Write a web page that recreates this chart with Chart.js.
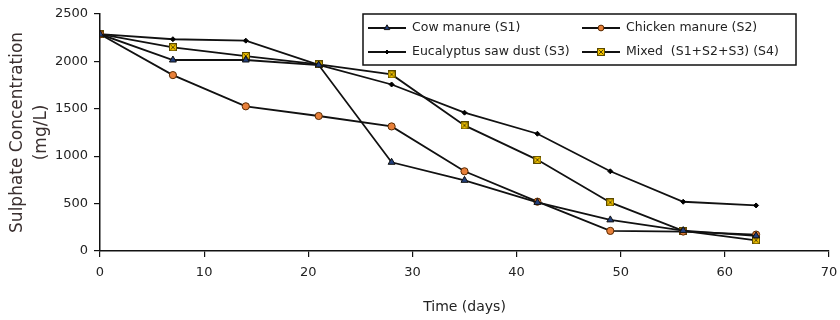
<!DOCTYPE html>
<html>
<head>
<meta charset="utf-8">
<script src="https://cdn.jsdelivr.net/npm/chart.js@4"></script>
<style>
  html, body { margin: 0; padding: 0; background: #fff; }
  #wrap { width: 840px; height: 320px; }
</style>
</head>
<body>
<div id="wrap"><canvas id="c" width="840" height="320"></canvas></div>
<script>
// ---- data ----
const days = [0, 7, 14, 21, 28, 35, 42, 49, 56, 63];
const cowManure = [2285, 2013, 2013, 1960, 935, 745, 512, 328, 215, 160];
const chickenManure = [2285, 1854, 1525, 1423, 1313, 840, 520, 212, 205, 173];
const eucalyptus = [2285, 2232, 2217, 1962, 1755, 1458, 1236, 840, 519, 480];
const mixed = [2285, 2147, 2055, 1967, 1861, 1324, 961, 512, 212, 113];
const seriesNames = ['Cow manure (S1)', 'Chicken manure (S2)', 'Eucalyptus saw dust (S3)', 'Mixed  (S1+S2+S3) (S4)'];
const xTicks = [0, 10, 20, 30, 40, 50, 60, 70];
const yTicks = [0, 500, 1000, 1500, 2000, 2500];

// ---- custom marker for Mixed: yellow square with an X ----
function makeMixedMarker() {
  const c = document.createElement('canvas');
  c.width = 8; c.height = 8;
  const g = c.getContext('2d');
  g.fillStyle = '#f2c200';
  g.fillRect(0.5, 0.5, 7, 7);
  g.strokeStyle = '#5b4a00';
  g.lineWidth = 1;
  g.strokeRect(0.5, 0.5, 7, 7);
  g.beginPath();
  g.moveTo(1.5, 1.5); g.lineTo(6.5, 6.5);
  g.moveTo(6.5, 1.5); g.lineTo(1.5, 6.5);
  g.stroke();
  return c;
}
const mixedMarker = makeMixedMarker();

const toPts = arr => days.map((d, i) => ({ x: d, y: arr[i] }));

const FONT = 'DejaVu Sans';
const TEXT = '#222';
const LINE = '#111';
const LW = 1.8;

const datasets = [
  { label: seriesNames[0], data: toPts(cowManure), borderColor: LINE, borderWidth: LW,
    pointStyle: 'triangle', pointRadius: 4, pointBackgroundColor: '#23407e', pointBorderColor: '#111', pointBorderWidth: 1 },
  { label: seriesNames[1], data: toPts(chickenManure), borderColor: LINE, borderWidth: LW,
    pointStyle: 'circle', pointRadius: 3.6, pointBackgroundColor: '#e8803a', pointBorderColor: '#5a2a00', pointBorderWidth: 1 },
  { label: seriesNames[2], data: toPts(eucalyptus), borderColor: LINE, borderWidth: LW,
    pointStyle: 'rectRot', pointRadius: 2.5, pointBackgroundColor: '#000', pointBorderColor: '#000', pointBorderWidth: 1 },
  { label: seriesNames[3], data: toPts(mixed), borderColor: LINE, borderWidth: LW,
    pointStyle: mixedMarker, pointRadius: 4, pointBackgroundColor: '#f2c200', pointBorderColor: '#5b4a00', pointBorderWidth: 1 }
];

// ---- boxed two-column legend ----
const boxLegend = {
  id: 'boxLegend',
  afterDraw(chart) {
    const ctx = chart.ctx;
    const box = { x: 363, y: 14, w: 433, h: 51 };
    const cols = [368, 582];
    const rows = [28, 52];
    const lineLen = 38;
    ctx.save();
    ctx.fillStyle = '#fff';
    ctx.fillRect(box.x, box.y, box.w, box.h);
    ctx.strokeStyle = '#111';
    ctx.lineWidth = 1.5;
    ctx.strokeRect(box.x, box.y, box.w, box.h);
    ctx.font = '12.5px "' + FONT + '"';
    ctx.textBaseline = 'middle';
    ctx.textAlign = 'left';
    chart.data.datasets.forEach((ds, i) => {
      const x = cols[i % 2], y = rows[Math.floor(i / 2)];
      ctx.strokeStyle = ds.borderColor;
      ctx.lineWidth = ds.borderWidth;
      ctx.beginPath();
      ctx.moveTo(x, y); ctx.lineTo(x + lineLen, y);
      ctx.stroke();
      ctx.fillStyle = ds.pointBackgroundColor;
      ctx.strokeStyle = ds.pointBorderColor;
      ctx.lineWidth = ds.pointBorderWidth;
      Chart.helpers.drawPoint(ctx, { pointStyle: ds.pointStyle, radius: ds.pointRadius * 0.8, rotation: 0, borderWidth: ds.pointBorderWidth }, x + lineLen / 2, y);
      ctx.fillStyle = TEXT;
      ctx.fillText(ds.label, x + lineLen + 6, y);
    });
    ctx.restore();
  }
};

new Chart(document.getElementById('c'), {
  type: 'line',
  data: { datasets },
  plugins: [boxLegend],
  options: {
    responsive: false,
    animation: false,
    layout: { padding: { top: 7, right: 0, left: 6, bottom: 1 } },
    plugins: { legend: { display: false }, tooltip: { enabled: false } },
    elements: { line: { tension: 0 } },
    scales: {
      x: {
        type: 'linear', min: 0, max: 70,
        afterBuildTicks: s => { s.ticks = xTicks.map(v => ({ value: v })); },
        afterFit: s => { s.height = 68; s.paddingRight = 11; },
        ticks: { color: TEXT, font: { family: FONT, size: 13 }, padding: 8, maxRotation: 0,
                 callback: v => String(v) },
        grid: { display: true, drawOnChartArea: false, drawTicks: true, tickLength: 6, color: '#111', lineWidth: 1.2 },
        border: { display: true, color: '#111', width: 1.5 },
        title: { display: true, text: 'Time (days)', color: TEXT, font: { family: FONT, size: 14 }, padding: { top: 14, bottom: 3 } }
      },
      y: {
        min: 0, max: 2500,
        afterBuildTicks: s => { s.ticks = yTicks.map(v => ({ value: v })); },
        afterFit: s => { s.width = 94; },
        ticks: { color: TEXT, font: { family: FONT, size: 13 }, padding: 6, callback: v => String(v) },
        grid: { display: true, drawOnChartArea: false, drawTicks: true, tickLength: 6, color: '#111', lineWidth: 1.2 },
        border: { display: true, color: '#111', width: 1.5 },
        title: { display: true, text: ['Sulphate Concentration', '(mg/L)'], color: '#3a3030',
                 font: { family: FONT, size: 17, lineHeight: 1.4 }, padding: { top: 0, bottom: 1 } }
      }
    }
  }
});
</script>
</body>
</html>
